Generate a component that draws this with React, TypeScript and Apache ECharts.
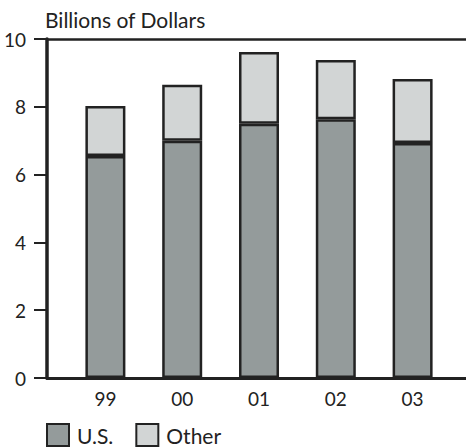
import React, { useEffect, useRef } from "react";
import * as echarts from "echarts";

const categories = ["99", "00", "01", "02", "03"];
const usValues = [6.55, 7.0, 7.5, 7.63, 6.93];
const otherValues = [1.47, 1.65, 2.12, 1.75, 1.89];
const yTicks = [0, 2, 4, 6, 8, 10];
const seriesNames = ["U.S.", "Other"];
const titleText = "Billions of Dollars";

const FONT = "Lato, 'Open Sans', sans-serif";
const INK = "#222222";

export default function App() {
  const ref = useRef<HTMLDivElement>(null);
  useEffect(() => {
    if (!ref.current) return;
    const chart = echarts.init(ref.current, undefined, { renderer: "svg" });
    const yMin = yTicks[0];
    const yMax = yTicks[yTicks.length - 1];
    chart.setOption({
      animation: false,
      backgroundColor: "#ffffff",
      textStyle: { fontFamily: FONT },
      title: {
        text: titleText,
        left: 40,
        top: 4,
        textStyle: { fontFamily: FONT, fontSize: 21, fontWeight: "normal", color: INK },
      },
      legend: {
        left: 46,
        top: 423,
        padding: 0,
        itemWidth: 22,
        itemHeight: 22,
        itemGap: 22,
        icon: "rect",
        itemStyle: { borderColor: INK, borderWidth: 2 },
        textStyle: { fontFamily: FONT, fontSize: 21, lineHeight: 21, color: INK, padding: [0, 0, 0, 3] },
        data: seriesNames,
      },
      grid: [
        { left: 47, right: 0, top: 39, bottom: 70, containLabel: false },
        { left: 67, right: 15, top: 39, bottom: 70, containLabel: false },
      ],
      xAxis: [
        {
          gridIndex: 0,
          type: "value",
          min: 0,
          max: 1,
          position: "bottom",
          axisLine: { show: true, lineStyle: { color: INK, width: 3 } },
          axisTick: { show: false },
          splitLine: { show: false },
          axisLabel: { show: false },
        },
        {
          gridIndex: 0,
          type: "value",
          min: 0,
          max: 1,
          position: "top",
          axisLine: { show: true, lineStyle: { color: INK, width: 2.5 } },
          axisTick: { show: false },
          splitLine: { show: false },
          axisLabel: { show: false },
        },
        {
          gridIndex: 1,
          type: "category",
          data: categories,
          position: "bottom",
          axisLine: { show: false },
          axisTick: { show: false },
          splitLine: { show: false },
          axisLabel: { fontFamily: FONT, fontSize: 19, color: INK, margin: 11 },
        },
      ],
      yAxis: [
        {
          gridIndex: 0,
          type: "value",
          min: yMin,
          max: yMax,
          interval: 2,
          axisLine: { show: true, onZero: false, lineStyle: { color: INK, width: 3.5 } },
          axisTick: { show: true, length: 13, lineStyle: { color: INK, width: 2 } },
          splitLine: { show: false },
          axisLabel: { fontFamily: FONT, fontSize: 19, color: INK, margin: 21 },
        },
        {
          gridIndex: 1,
          type: "value",
          min: yMin,
          max: yMax,
          interval: 2,
          show: false,
          splitLine: { show: false },
        },
      ],
      series: [
        {
          name: seriesNames[0],
          type: "bar",
          xAxisIndex: 2,
          yAxisIndex: 1,
          stack: "total",
          barWidth: 40,
          itemStyle: { color: "#949b9b", borderColor: INK, borderWidth: 2.5 },
          data: usValues,
        },
        {
          name: seriesNames[1],
          type: "bar",
          xAxisIndex: 2,
          yAxisIndex: 1,
          stack: "total",
          barWidth: 40,
          itemStyle: { color: "#d2d5d5", borderColor: INK, borderWidth: 2.5 },
          data: otherValues,
        },
      ],
    });
    return () => chart.dispose();
  }, []);
  return (
    <div
      ref={ref}
      style={{ position: "fixed", left: 0, top: 0, width: 466, height: 448, background: "#fff" }}
    />
  );
}
